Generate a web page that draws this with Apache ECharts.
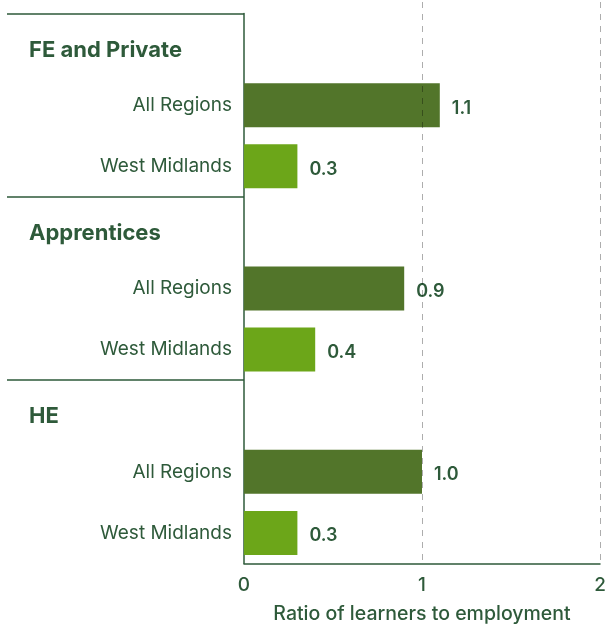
<!DOCTYPE html>
<html>
<head>
<meta charset="utf-8">
<script src="https://cdn.jsdelivr.net/npm/echarts@6/dist/echarts.min.js"></script>
<style>
  html, body { margin: 0; padding: 0; background: #fff; }
  #chart { width: 606px; height: 626px; }
</style>
</head>
<body>
<div id="chart"></div>
<script>
// Provider groups and the two regional comparisons within each
const groups = ['FE and Private', 'Apprentices', 'HE'];
const regions = ['All Regions', 'West Midlands'];
const allRegionsValues = [1.1, 0.9, 1.0];
const westMidlandsValues = [0.3, 0.4, 0.3];
const xTicks = [0, 1, 2];
const xTitle = 'Ratio of learners to employment';

const TEXT = '#2e5a3a';
const DARK_BAR = '#52752a';
const LIGHT_BAR = '#6ca619';
const FONT = 'Inter, "Liberation Sans", Arial, sans-serif';

// Build rows: a header row per group followed by one row per region
const categories = [];
const values = [];
groups.forEach((g, gi) => {
  categories.push(g);
  values.push(null);
  regions.forEach((r, ri) => {
    categories.push(g + '|' + r);
    const v = ri === 0 ? allRegionsValues[gi] : westMidlandsValues[gi];
    values.push({ value: v, itemStyle: { color: ri === 0 ? DARK_BAR : LIGHT_BAR } });
  });
});
const rowsPerGroup = regions.length + 1;
// row boundaries at the top of each group (used for the separator rules)
const groupStarts = groups.map((g, i) => i * rowsPerGroup);

const chart = echarts.init(document.getElementById('chart'), null, { renderer: 'canvas' });

const gridLeft = 244, gridRight = 6, gridTop = 13.5, gridBottom = 62.5;

chart.setOption({
  animation: false,
  backgroundColor: '#fff',
  textStyle: { fontFamily: FONT },
  grid: [
    { left: gridLeft, right: gridRight, top: gridTop, bottom: gridBottom, containLabel: false, outerBoundsMode: 'none' },
    { left: gridLeft, right: gridRight, top: 2, bottom: gridBottom, containLabel: false, outerBoundsMode: 'none' }
  ],
  xAxis: [
    {
      gridIndex: 0,
      type: 'value',
      min: xTicks[0],
      max: xTicks[xTicks.length - 1],
      interval: 1,
      axisLine: { show: true, onZero: false, lineStyle: { color: TEXT, width: 1.5 } },
      axisTick: { show: false },
      splitLine: { show: false },
      axisLabel: {
        color: TEXT, fontSize: 19, fontWeight: 500, fontFamily: FONT, margin: 12,
        formatter: v => String(v)
      },
      name: xTitle,
      nameLocation: 'middle',
      nameGap: 41,
      nameTextStyle: { color: TEXT, fontSize: 19.5, fontFamily: FONT, fontWeight: 500 }
    },
    {
      // dashed reference lines drawn over the bars
      gridIndex: 1,
      type: 'value',
      min: xTicks[0],
      max: xTicks[xTicks.length - 1],
      interval: 1,
      z: 5,
      axisLine: { show: false },
      axisTick: { show: false },
      axisLabel: { show: false },
      splitLine: {
        show: true,
        showMinLine: false,
        lineStyle: { color: 'rgba(0,0,0,0.32)', width: 1, type: [6, 6] }
      }
    }
  ],
  yAxis: [
    {
      gridIndex: 0,
      type: 'category',
      inverse: true,
      data: categories,
      axisLine: { show: true, onZero: false, lineStyle: { color: TEXT, width: 1.5 } },
      axisTick: { show: false },
      axisLabel: {
        margin: 12,
        formatter: (v) => {
          const parts = v.split('|');
          if (parts.length === 1) return '{h|' + parts[0] + '}';
          return '{r|' + parts[1] + '}';
        },
        rich: {
          h: { width: 203, align: 'left', padding: [12, 0, 0, 0], color: TEXT, fontSize: 22, fontWeight: 'bold', fontFamily: FONT },
          r: { color: TEXT, fontSize: 19, fontFamily: FONT }
        }
      }
    },
    {
      gridIndex: 1,
      type: 'value',
      show: false
    },
    {
      // row-boundary scale used only to draw the group separator rules
      gridIndex: 0,
      type: 'value',
      position: 'left',
      inverse: true,
      min: 0,
      max: categories.length,
      axisLine: { show: false, onZero: false },
      axisLabel: { show: false },
      splitLine: { show: false },
      axisTick: {
        show: true,
        length: 237,
        customValues: groupStarts,
        lineStyle: { color: TEXT, width: 1.5 }
      }
    }
  ],
  series: [
    {
      type: 'bar',
      xAxisIndex: 0,
      yAxisIndex: 0,
      data: values,
      barWidth: 44,
      label: {
        show: true,
        position: 'right',
        distance: 12,
        offset: [0, 3],
        color: TEXT,
        fontSize: 18,
        fontWeight: 600,
        fontFamily: FONT,
        formatter: p => p.value == null ? '' : Number(p.value).toFixed(1)
      }
    }
  ]
});
</script>
</body>
</html>
